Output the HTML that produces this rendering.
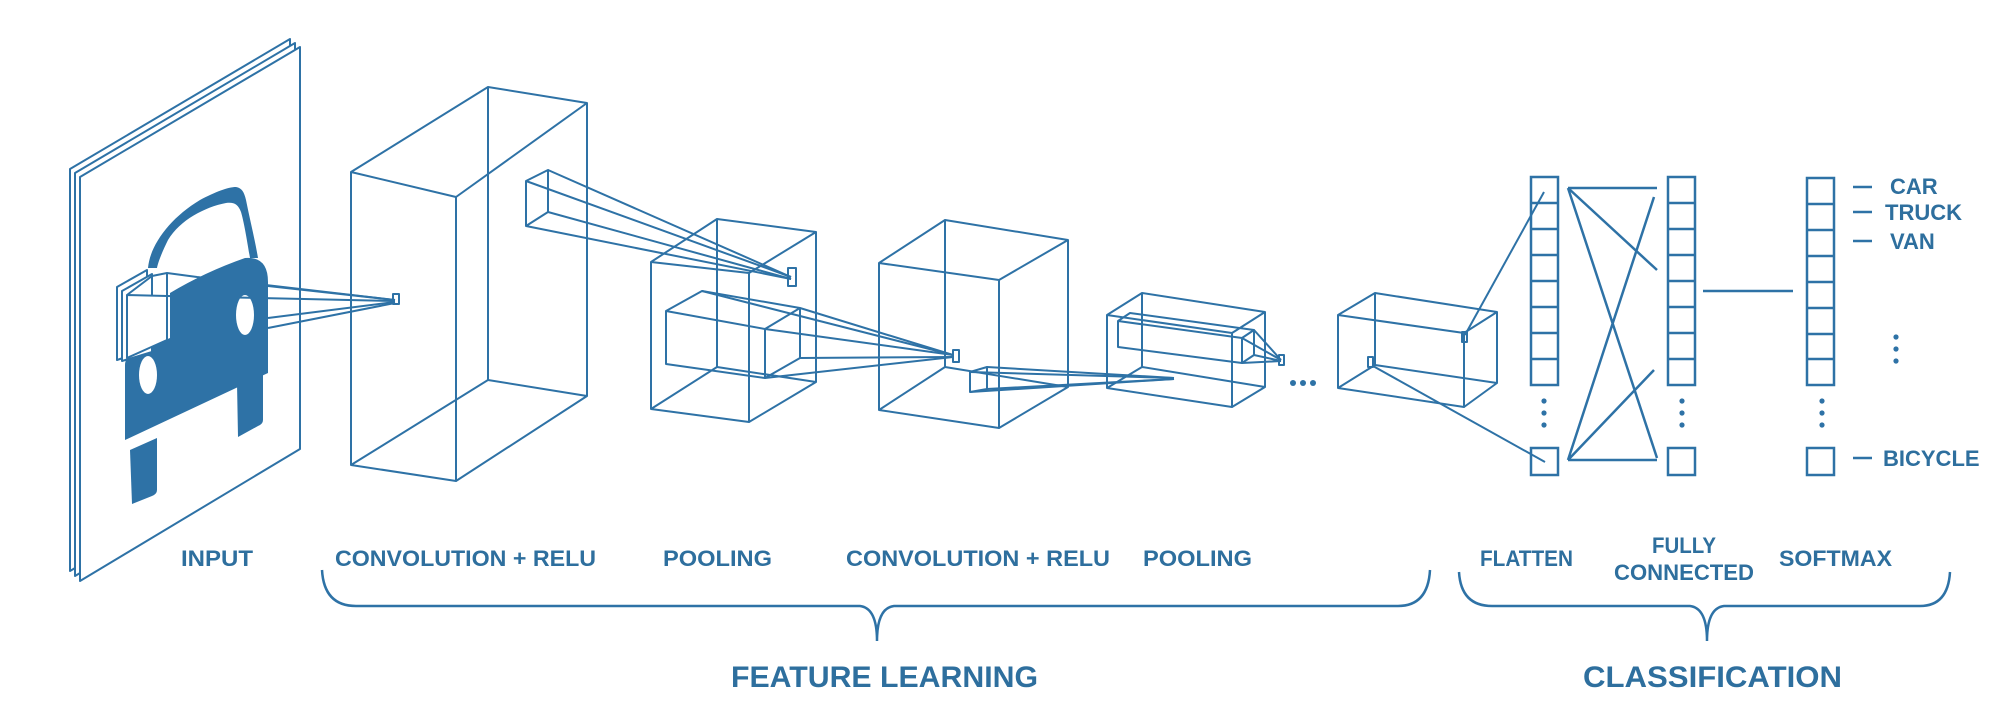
<!DOCTYPE html>
<html><head><meta charset="utf-8"><style>
html,body{margin:0;padding:0;background:#fff;width:2000px;height:701px;overflow:hidden}
svg{display:block}
text{font-family:"Liberation Sans",sans-serif;font-weight:bold;fill:#2e6f9e}
</style></head><body>
<svg width="2000" height="701" viewBox="0 0 2000 701" xmlns="http://www.w3.org/2000/svg">
<g fill="none" stroke="#2e72a6" stroke-width="2" stroke-linejoin="round">
<!-- input sheets -->
<polygon points="70,169 290,39 290,441 70,571" fill="#fff"/>
<polygon points="75,173 295,43 295,445 75,576" fill="#fff"/>
<polygon points="80,177 300,47 300,449 80,581" fill="#fff"/>
<!-- car -->
<path d="M148,268 C150,245 170,218 200,200 C215,192 228,187 236,187 C242,188 244,192 246,200 C250,220 255,240 258,258 L250,258 C247,240 244,222 241,212 C238,204 234,202 226,203 C205,207 180,220 168,240 C163,250 158,262 157,268 Z" fill="#2e72a6" stroke="none"/>
<path d="M125,440 L125,365 Q125,357 135,353 L170,338 L170,293 Q205,272 245,258 Q268,256 268,282 L268,373 Z" fill="#2e72a6" stroke="none"/>
<ellipse cx="245" cy="315" rx="9" ry="20" fill="#fff" stroke="none"/>
<ellipse cx="148" cy="375" rx="9" ry="19" fill="#fff" stroke="none"/>
<path d="M130,450 L157,438 L157,490 Q157,494 152,496 L132,504 Z" fill="#2e72a6" stroke="none"/>
<path d="M237,383 L263,370 L263,420 Q263,424 258,426 L238,437 Z" fill="#2e72a6" stroke="none"/>
<polygon points="117,287 147,270 147,350 117,360" fill="#fff"/>
<polygon points="122,291 152,274 152,352 122,361" fill="#fff"/>
<polygon points="127,295 167,296 167,340 127,358" fill="#fff"/>
<polyline points="127,295 152,276 167,273 197,277"/>
<line x1="167" y1="273" x2="167" y2="296"/>
<line x1="197" y1="277" x2="395" y2="300"/><line x1="268" y1="286" x2="395" y2="300"/>
<line x1="167" y1="296" x2="395" y2="301"/><line x1="268" y1="318" x2="395" y2="302"/>
<line x1="268" y1="328" x2="395" y2="303"/>
<rect x="393" y="294" width="6" height="10"/>
<!-- conv1 -->
<polygon points="351,172 456,197 456,481 351,465"/>
<polyline points="351,172 488,87 587,103 587,396 456,481"/>
<line x1="456" y1="197" x2="587" y2="103"/>
<polyline points="488,87 488,380 351,465"/><line x1="488" y1="380" x2="587" y2="396"/>
<polygon points="526,181 548,170 548,212 526,226"/>
<line x1="526" y1="181" x2="791" y2="277"/><line x1="548" y1="170" x2="791" y2="277"/>
<line x1="526" y1="226" x2="791" y2="279"/><line x1="548" y1="212" x2="791" y2="279"/>
<rect x="788" y="268" width="8" height="18"/>
<!-- pool1 -->
<polygon points="651,262 749,273 749,422 651,409"/>
<polyline points="651,262 717,219 816,232 816,382 749,422"/>
<line x1="749" y1="273" x2="816" y2="232"/>
<polyline points="717,219 717,367 651,409"/><line x1="717" y1="367" x2="816" y2="382"/>
<polygon points="666,311 765,329 765,378 666,364"/>
<polyline points="666,311 702,291 800,308 800,358 765,378"/><line x1="765" y1="329" x2="800" y2="308"/>
<line x1="765" y1="329" x2="953" y2="355"/><line x1="800" y1="308" x2="953" y2="355"/>
<line x1="765" y1="378" x2="953" y2="357"/><line x1="800" y1="358" x2="953" y2="357"/>
<line x1="702" y1="291" x2="953" y2="355"/>
<!-- conv2 -->
<polygon points="879,263 999,280 999,428 879,410"/>
<polyline points="879,263 945,220 1068,240 1068,387 999,428"/>
<line x1="999" y1="280" x2="1068" y2="240"/>
<polyline points="945,220 945,367 879,410"/><line x1="945" y1="367" x2="1068" y2="387"/>
<rect x="953" y="350" width="6" height="12"/>
<polygon points="970,372 987,367 987,389 970,392"/>
<line x1="970" y1="372" x2="1174" y2="378"/><line x1="987" y1="367" x2="1174" y2="378"/>
<line x1="970" y1="392" x2="1174" y2="379"/><line x1="987" y1="389" x2="1174" y2="379"/>
<!-- pool2 -->
<polygon points="1107,315 1232,333 1232,407 1107,388"/>
<polyline points="1107,315 1142,293 1265,312 1265,387 1232,407"/>
<line x1="1232" y1="333" x2="1265" y2="312"/>
<polyline points="1142,293 1142,367 1107,388"/><line x1="1142" y1="367" x2="1265" y2="387"/>
<polygon points="1118,321 1242,338 1242,363 1118,347"/>
<polyline points="1118,321 1130,313 1254,330 1254,355 1242,363"/><line x1="1242" y1="338" x2="1254" y2="330"/>
<line x1="1254" y1="330" x2="1281" y2="360"/><line x1="1242" y1="338" x2="1281" y2="360"/>
<line x1="1242" y1="363" x2="1281" y2="361"/><line x1="1254" y1="355" x2="1281" y2="361"/>
<rect x="1279" y="355" width="5" height="10"/>
<!-- cube3 -->
<polygon points="1338,315 1464,333 1464,407 1338,388"/>
<polyline points="1338,315 1375,293 1497,312 1497,383 1464,407"/>
<line x1="1464" y1="333" x2="1497" y2="312"/>
<polyline points="1375,293 1375,365 1338,388"/><line x1="1375" y1="365" x2="1497" y2="383"/>
<rect x="1462" y="332" width="5" height="10"/><rect x="1368" y="357" width="5" height="10"/>
<line x1="1465" y1="335" x2="1544" y2="192"/><line x1="1373" y1="366" x2="1545" y2="462"/>
</g>
<g fill="#2e72a6">
<circle cx="1293" cy="383" r="3"/><circle cx="1303" cy="383" r="3"/><circle cx="1313" cy="383" r="3"/>
<circle cx="1544" cy="401" r="2.6"/><circle cx="1544" cy="413" r="2.6"/><circle cx="1544" cy="425" r="2.6"/>
<circle cx="1682" cy="401" r="2.6"/><circle cx="1682" cy="413" r="2.6"/><circle cx="1682" cy="425" r="2.6"/>
<circle cx="1822" cy="401" r="2.6"/><circle cx="1822" cy="413" r="2.6"/><circle cx="1822" cy="425" r="2.6"/>
<circle cx="1896" cy="337" r="2.6"/><circle cx="1896" cy="349" r="2.6"/><circle cx="1896" cy="361" r="2.6"/>
</g>
<g fill="none" stroke="#2e72a6" stroke-width="2.5">
<rect x="1531" y="177" width="27" height="208"/>
<path d="M1531,203H1558M1531,229H1558M1531,255H1558M1531,281H1558M1531,307H1558M1531,333H1558M1531,359H1558"/>
<rect x="1531" y="448" width="27" height="27"/>
<rect x="1668" y="177" width="27" height="208"/>
<path d="M1668,203H1695M1668,229H1695M1668,255H1695M1668,281H1695M1668,307H1695M1668,333H1695M1668,359H1695"/>
<rect x="1668" y="448" width="27" height="27"/>
<rect x="1807" y="178" width="27" height="207"/>
<path d="M1807,204H1834M1807,230H1834M1807,256H1834M1807,282H1834M1807,308H1834M1807,334H1834M1807,359H1834"/>
<rect x="1807" y="448" width="27" height="27"/>
<path d="M1568,188H1657M1568,188L1657,270M1568,188L1657,458M1568,460H1657M1568,460L1654,197M1568,460L1654,370M1703,291H1793"/>
<path d="M1853,187H1872M1853,212H1872M1853,241H1872M1853,458H1872"/>
<path d="M322,570 Q324,606 356,606 L860,606 Q877,608 877,641 Q877,608 894,606 L1398,606 Q1428,606 1430,570"/>
<path d="M1459,572 Q1461,606 1492,606 L1690,606 Q1707,608 1707,641 Q1707,608 1724,606 L1920,606 Q1948,606 1950,572"/>
</g>
<g font-size="22">
<text x="1890" y="194">CAR</text>
<text x="1885" y="220">TRUCK</text>
<text x="1890" y="249">VAN</text>
<text x="1883" y="466">BICYCLE</text>
<text x="217" y="566" text-anchor="middle" textLength="72" lengthAdjust="spacingAndGlyphs">INPUT</text>
<text x="335" y="566" textLength="261" lengthAdjust="spacingAndGlyphs">CONVOLUTION + RELU</text>
<text x="663" y="566" textLength="109" lengthAdjust="spacingAndGlyphs">POOLING</text>
<text x="846" y="566" textLength="264" lengthAdjust="spacingAndGlyphs">CONVOLUTION + RELU</text>
<text x="1143" y="566" textLength="109" lengthAdjust="spacingAndGlyphs">POOLING</text>
<text x="1480" y="566" textLength="93" lengthAdjust="spacingAndGlyphs">FLATTEN</text>
<text x="1684" y="553" text-anchor="middle" textLength="64" lengthAdjust="spacingAndGlyphs">FULLY</text>
<text x="1614" y="580" textLength="140" lengthAdjust="spacingAndGlyphs">CONNECTED</text>
<text x="1779" y="566" textLength="113" lengthAdjust="spacingAndGlyphs">SOFTMAX</text>
</g>
<g font-size="30">
<text x="731" y="687" textLength="307" lengthAdjust="spacingAndGlyphs">FEATURE LEARNING</text>
<text x="1583" y="687" textLength="259" lengthAdjust="spacingAndGlyphs">CLASSIFICATION</text>
</g>
</svg>
</body></html>
